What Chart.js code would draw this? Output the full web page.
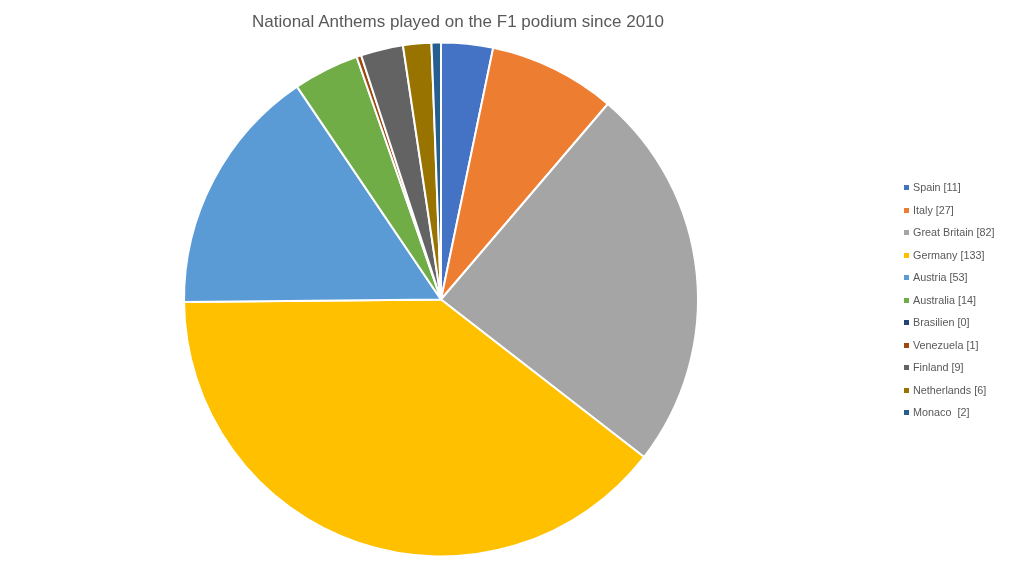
<!DOCTYPE html>
<html>
<head>
<meta charset="utf-8">
<script src="https://cdn.jsdelivr.net/npm/chart.js@4"></script>
<style>
  body { margin: 0; background: #fff; }
  #wrap { position: relative; width: 1011px; height: 571px; }
  #title { position: absolute; left: 0; width: 916px; top: 12px; text-align: center; font-family: "Liberation Sans", Arial, sans-serif; font-size: 17px; color: #595959; }
  #legend { position: absolute; left: 904px; top: 179px; font-family: "Liberation Sans", Arial, sans-serif; font-size: 10.8px; color: #595959; }
  #legend div { height: 22.5px; line-height: 16px; white-space: pre; }
  #legend span { display: inline-block; width: 5px; height: 5px; margin-right: 4px; vertical-align: 1px; }
</style>
</head>
<body>
<div id="wrap">
  <canvas id="pieChart" width="1011" height="571"></canvas>
  <div id="title"></div>
  <div id="legend"></div>
</div>
<script>
const chartTitle = "National Anthems played on the F1 podium since 2010"
const countries = ["Spain", "Italy", "Great Britain", "Germany", "Austria", "Australia", "Brasilien", "Venezuela", "Finland", "Netherlands", "Monaco"]
const anthems = [11, 27, 82, 133, 53, 14, 0, 1, 9, 6, 2]
const legendLabels = ["Spain [11]", "Italy [27]", "Great Britain [82]", "Germany [133]", "Austria [53]", "Australia [14]", "Brasilien [0]", "Venezuela [1]", "Finland [9]", "Netherlands [6]", "Monaco  [2]"]
const sliceColors = ["#4472C4", "#ED7D31", "#A5A5A5", "#FFC000", "#5B9BD5", "#70AD47", "#264478", "#9E480E", "#636363", "#997300", "#255E91"]

document.getElementById("title").textContent = chartTitle

// legend drawn as html so it can sit where the original has it
const legend = document.getElementById("legend")
legendLabels.forEach((txt, i) => {
  const row = document.createElement("div")
  const box = document.createElement("span")
  box.style.background = sliceColors[i]
  row.appendChild(box)
  row.appendChild(document.createTextNode(txt))
  legend.appendChild(row)
})

new Chart("pieChart", {
  type: "pie",
  data: {
    labels: countries,
    datasets: [{
      backgroundColor: sliceColors,
      borderColor: "#fff",
      borderWidth: 2,
      data: anthems
    }]
  },
  options: {
    responsive: false,
    animation: false,
    layout: { padding: { left: 183, right: 312, top: 41, bottom: 13 } },
    plugins: {
      legend: { display: false },
      tooltip: { enabled: false },
      title: { display: false }
    }
  }
});
</script>
</body>
</html>
